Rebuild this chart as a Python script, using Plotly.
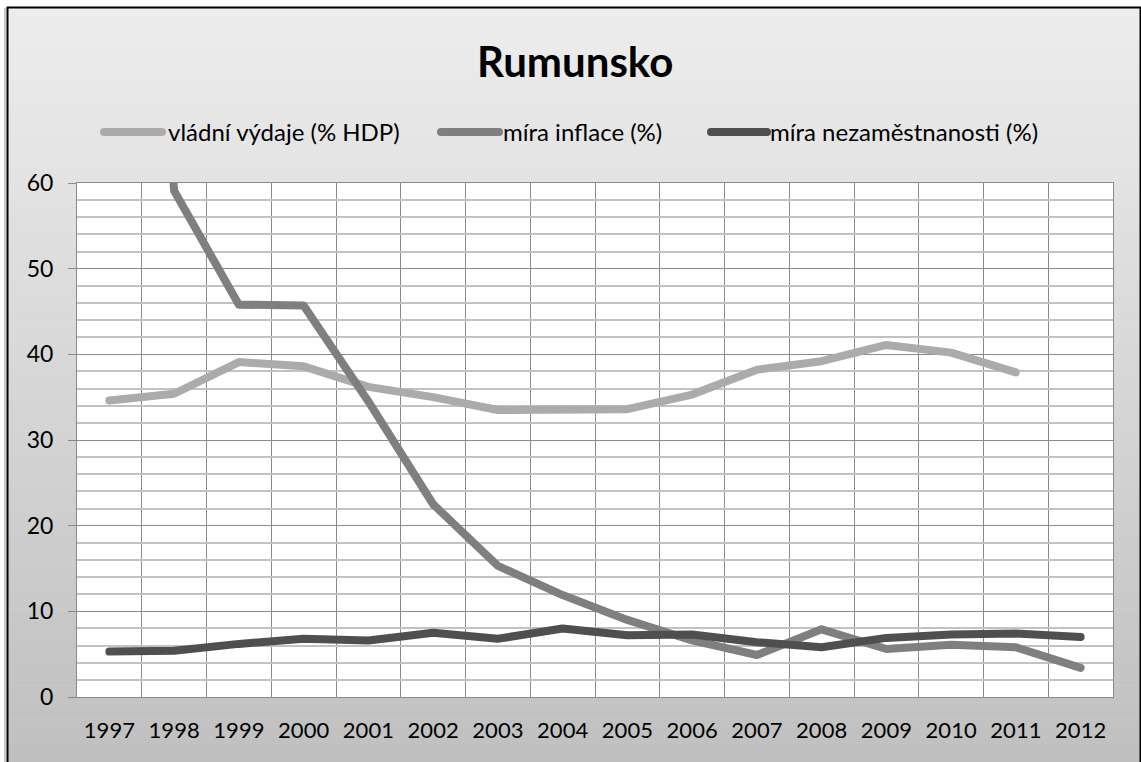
import plotly.graph_objects as go

years = [str(y) for y in range(1997, 2013)]
x_vals = list(range(1997, 2013))

gov_spending = [34.6, 35.4, 39.1, 38.6, 36.2, 35.0, 33.5, 33.6, 33.6, 35.3, 38.2, 39.2, 41.1, 40.2, 37.9, None]
inflation = [154.8, 59.1, 45.8, 45.7, 34.5, 22.5, 15.3, 11.9, 9.0, 6.6, 4.9, 7.9, 5.6, 6.1, 5.8, 3.4]
unemployment = [5.3, 5.4, 6.2, 6.8, 6.6, 7.5, 6.8, 8.0, 7.2, 7.3, 6.4, 5.8, 6.9, 7.3, 7.4, 7.0]

series_names = ["vládní výdaje (% HDP)", "míra inflace (%)", "míra nezaměstnanosti (%)"]
series_colors = ["#ababab", "#7f7f7f", "#4f4f4f"]
title_text = "Rumunsko"

W, H = 1141, 762
L, R, T, B = 77, 1113, 183, 697
FONT = "Lato"


def xp(px):
    return (px - L) / (R - L)


def yp(py):
    return (B - py) / (B - T)


fig = go.Figure()
for name, vals, col in zip(series_names, [gov_spending, inflation, unemployment], series_colors):
    fig.add_trace(go.Scatter(x=x_vals, y=vals, mode="lines", name=name,
                             line=dict(color=col, width=8), connectgaps=False,
                             showlegend=False, hoverinfo="skip"))

shapes = []
# background gradient stripes
n = 90
top_c, bot_c = 237, 191
y0p, y1p = 8, 770
for i in range(n):
    a = y0p + (y1p - y0p) * i / n
    b = y0p + (y1p - y0p) * (i + 1) / n
    c = round(top_c + (bot_c - top_c) * (i + 0.5) / n)
    shapes.append(dict(type="rect", xref="paper", yref="paper", layer="below",
                       x0=xp(8), x1=xp(1141), y0=yp(b + 0.5), y1=yp(a),
                       fillcolor=f"rgb({c},{c},{c})", line=dict(width=0)))
# plot area white
shapes.append(dict(type="rect", xref="paper", yref="paper", layer="below",
                   x0=0, x1=1, y0=0, y1=1, fillcolor="white", line=dict(width=0)))
# shadow + border
shapes.append(dict(type="line", xref="paper", yref="paper", layer="above",
                   x0=xp(5), x1=xp(5), y0=yp(9), y1=yp(770),
                   line=dict(color="#c8c8c8", width=2)))
shapes.append(dict(type="rect", xref="paper", yref="paper", layer="above",
                   x0=xp(7.5), x1=xp(1140.5), y0=yp(770), y1=yp(7.5),
                   line=dict(color="black", width=2), fillcolor="rgba(0,0,0,0)"))

# manual legend
leg_y = 132
leg_items = [(104, 162, 166), (441, 499, 501), (711, 767, 768)]
annotations = []
for (l0, l1, tx), name, col in zip(leg_items, series_names, series_colors):
    shapes.append(dict(type="line", xref="paper", yref="paper", layer="above",
                       x0=xp(l0), x1=xp(l1), y0=yp(leg_y), y1=yp(leg_y),
                       line=dict(color=col, width=8)))
    annotations.append(dict(text=name, xref="paper", yref="paper", x=xp(tx), y=yp(leg_y),
                            xanchor="left", yanchor="middle", showarrow=False,
                            font=dict(family=FONT, size=24, color="black")))

annotations.append(dict(text="<b>" + title_text + "</b>", xref="paper", yref="paper",
                        x=xp(575), y=yp(61), xanchor="center", yanchor="middle",
                        showarrow=False, font=dict(family=FONT, size=42, color="black")))

grid_dark = "#8a8a8a"
fig.update_layout(
    width=W, height=H,
    margin=dict(l=L, r=W - R, t=T, b=H - B, pad=0),
    paper_bgcolor="white", plot_bgcolor="rgba(0,0,0,0)",
    font=dict(family=FONT, size=22, color="black"),
    shapes=shapes, annotations=annotations, showlegend=False,
    xaxis=dict(range=[1996.5, 2012.5], tickmode="array", tickvals=x_vals, ticktext=years,
               showgrid=False, ticks="", showline=True, linecolor=grid_dark, linewidth=1,
               mirror=True, zeroline=False, ticklabelstandoff=14,
               minor=dict(tickmode="array", tickvals=[y + 0.5 for y in range(1996, 2013)],
                          showgrid=True, gridcolor=grid_dark, gridwidth=1, ticks=""),
               tickfont=dict(family=FONT, size=22)),
    yaxis=dict(range=[0, 60], tickmode="linear", tick0=0, dtick=10, showgrid=True,
               gridcolor=grid_dark, gridwidth=1, ticks="outside", ticklen=8,
               tickcolor=grid_dark, showline=True, linecolor=grid_dark, linewidth=1,
               mirror=True, zeroline=False, ticklabelstandoff=10,
               minor=dict(dtick=2, showgrid=True, gridcolor="#c2c2c2", gridwidth=1.5, ticks=""),
               tickfont=dict(family=FONT, size=23)),
)

post = ("document.body.style.margin='0';document.body.style.padding='0';"
        "var gd=document.getElementById('{plot_id}');"
        "gd.querySelectorAll('.scatterlayer .js-line').forEach(function(p){"
        "p.style.strokeLinejoin='round';p.style.strokeLinecap='round';});"
        "gd.querySelectorAll('.shapelayer path').forEach(function(p){"
        "p.style.strokeLinecap='round';});")
fig.write_html("out.html", post_script=post, config={"displayModeBar": False})
